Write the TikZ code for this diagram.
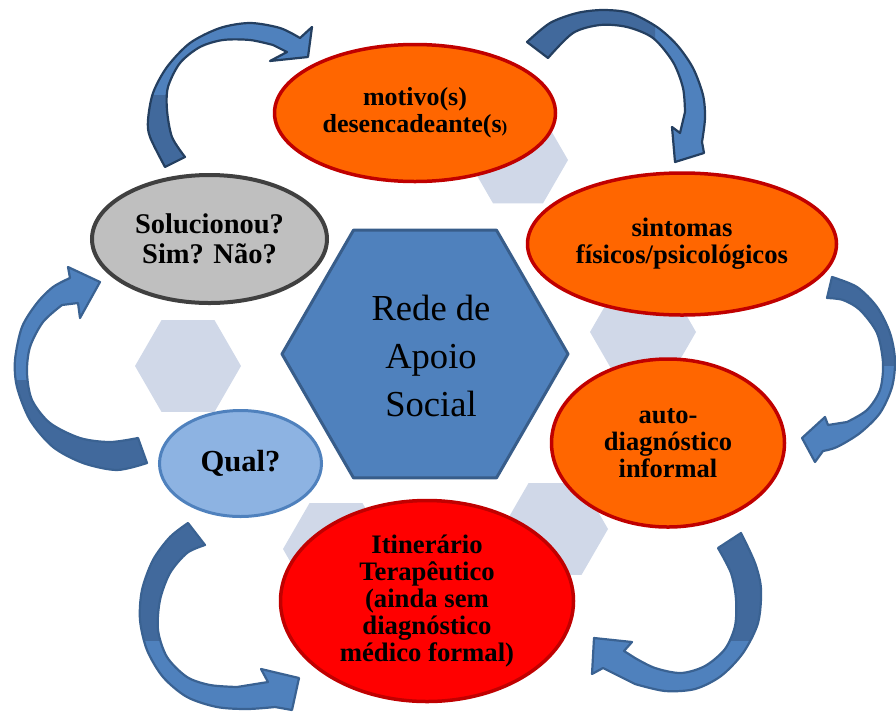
\documentclass[tikz,border=0pt]{standalone}
\usepackage{fontspec}
\setmainfont{Liberation Serif}
\usetikzlibrary{shapes.geometric}

\definecolor{orangefill}{HTML}{FF6600}
\definecolor{redline}{HTML}{C00000}
\definecolor{redfill}{HTML}{FF0000}
\definecolor{qualfill}{HTML}{8DB3E2}
\definecolor{accent}{HTML}{4F81BD}
\definecolor{accentdark}{HTML}{385D8A}
\definecolor{greyfill}{HTML}{BFBFBF}
\definecolor{greyline}{HTML}{404040}
\definecolor{hexpale}{HTML}{D0D8E8}
\definecolor{ribbonshade}{HTML}{41699C}
\definecolor{navyline}{HTML}{243F60}
\definecolor{ribbonline}{HTML}{3A6292}

% curved block arrow: #1 outline path, #2 region of the shaded back face, #3 outline colour
\newcommand{\ribbon}[3]{%
  \fill[accent] #1;
  \begin{scope}\clip #2; \fill[ribbonshade] #1; \end{scope}
  \draw[#3, line width=2.2pt, line join=round] #1;
}

\tikzset{
  stage/.style={ellipse, inner sep=0pt, align=center, line width=3.5pt},
  warm/.style={stage, fill=orangefill, draw=redline},
  paleHex/.style={fill=hexpale},
}

\begin{document}
\begin{tikzpicture}[x=1pt, y=-1pt]
\useasboundingbox (0,0) rectangle (896,713);

% pale hexagons in the background
\foreach \cx/\cy/\r in {518/160/50, 188/366/53, 643/332/53, 555/529/53, 336/549/53}{
  \fill[paleHex] (\cx,\cy) +(0:\r) -- +(60:\r) -- +(120:\r) -- +(180:\r) -- +(240:\r) -- +(300:\r) -- cycle;
}

% central hexagon
\coordinate (hub) at (425,354);
\draw[fill=accent, draw=accentdark, line width=3pt, line join=round]
  (hub) +(0:143) -- +(60:143) -- +(120:143) -- +(180:143) -- +(240:143) -- +(300:143) -- cycle;
\node[align=center, font=\fontsize{36.6}{48}\selectfont] (rede) at (431,356) {Rede de\\Apoio\\Social};

% stages of the cycle
\node[warm, minimum width=281, minimum height=137,
      font=\bfseries\fontsize{26}{27}\selectfont] (motivo) at (415,113)
  {motivo(s)\\desencadeante(s{\fontsize{17}{27}\selectfont)}};
\node[warm, minimum width=309, minimum height=142,
      font=\bfseries\fontsize{26.7}{27}\selectfont] (sintomas) at (682,244)
  {sintomas\\físicos/psicológicos};
\node[warm, minimum width=233, minimum height=168,
      font=\bfseries\fontsize{26.5}{27}\selectfont] (auto) at (668,443)
  {auto-\\diagnóstico\\informal};
\node[stage, fill=redfill, draw=redline, minimum width=293, minimum height=201,
      font=\bfseries\fontsize{26.7}{27.2}\selectfont] (itin) at (427,601)
  {Itinerário\\Terapêutico\\(ainda sem\\diagnóstico\\médico formal)};
\node[stage, fill=qualfill, draw=accent, line width=3pt, minimum width=162, minimum height=106,
      font=\bfseries\fontsize{30.6}{32}\selectfont] (qual) at (240.5,463.5) {Qual?};
\node[stage, fill=greyfill, draw=greyline, line width=4pt, minimum width=235, minimum height=128,
      font=\bfseries\fontsize{28.5}{30}\selectfont] (sol) at (209.5,239) {Solucionou?\\Sim? Não?};

% curved arrows between the stages
\ribbon{plot[smooth] coordinates {(165,167) (150,137) (148,120) (153,93) (167,67) (190,43) (220,28) (250,23) (280,28) (300,38)}
  -- (312,27) -- (308,57) -- (270,61) -- (287,52)
  -- plot[smooth] coordinates {(273,45) (250,40) (223,40) (200,47) (180,63) (168,87) (167,110) (172,137) (185,157)} -- cycle}
  {(100,95) rectangle (240,200)}{navyline}

\ribbon{plot[smooth] coordinates {(527,42) (550,23) (577,13) (603,10) (630,13) (657,27) (677,45) (693,68) (703,95) (705,118) (702,142)}
  -- (704,153) -- (675,162) -- (672,127) -- (680,133)
  -- plot[smooth] coordinates {(685,112) (683,88) (673,62) (653,38) (627,27) (600,25) (573,33) (548,58)} -- cycle}
  {(500,0) rectangle (655,80)}{navyline}

\ribbon{plot[smooth] coordinates {(832,277) (857,287) (877,307) (890,333) (895,360) (892,387) (880,413) (860,433) (837,447) (823,451)}
  -- (815,462) -- (802,438) -- (825,417) -- (828,425)
  -- plot[smooth] coordinates {(847,422) (867,410) (880,390) (883,363) (877,333) (860,310) (843,300) (827,298)} -- cycle}
  {(800,260) rectangle (900,365)}{ribbonline}

\ribbon{plot[smooth] coordinates {(741,533) (755,563) (761,589) (758,623) (743,653) (721,676) (695,689) (665,691) (635,684)}
  -- (603,668) -- (592,674) -- (594,638) -- (632,642) -- (624,651)
  -- plot[smooth] coordinates {(635,658) (655,668) (681,673) (705,666) (725,649) (735,626) (736,599) (731,573) (718,548)} -- cycle}
  {(700,520) rectangle (780,640)}{ribbonline}

\ribbon{plot[smooth] coordinates {(188,523) (170,537) (153,560) (142,590) (140,620) (147,650) (163,677) (187,697) (217,707) (247,709) (275,707)}
  -- (292,710) -- (299,678) -- (261,669) -- (268,682)
  -- plot[smooth] coordinates {(237,687) (210,685) (187,677) (167,657) (158,630) (160,600) (170,573) (187,553) (205,545)} -- cycle}
  {(120,510) rectangle (220,640)}{ribbonline}

\ribbon{plot[smooth] coordinates {(147,463) (117,470) (83,463) (53,447) (30,420) (17,387) (15,360) (22,327) (37,303) (53,287) (70,278)}
  -- (68,267) -- (100,282) -- (80,318) -- (78,303)
  -- plot[smooth] coordinates {(62,305) (43,322) (30,347) (27,373) (32,400) (50,423) (80,438) (110,442) (138,438)} -- cycle}
  {(0,380) rectangle (160,480)}{ribbonline}

\end{tikzpicture}
\end{document}
